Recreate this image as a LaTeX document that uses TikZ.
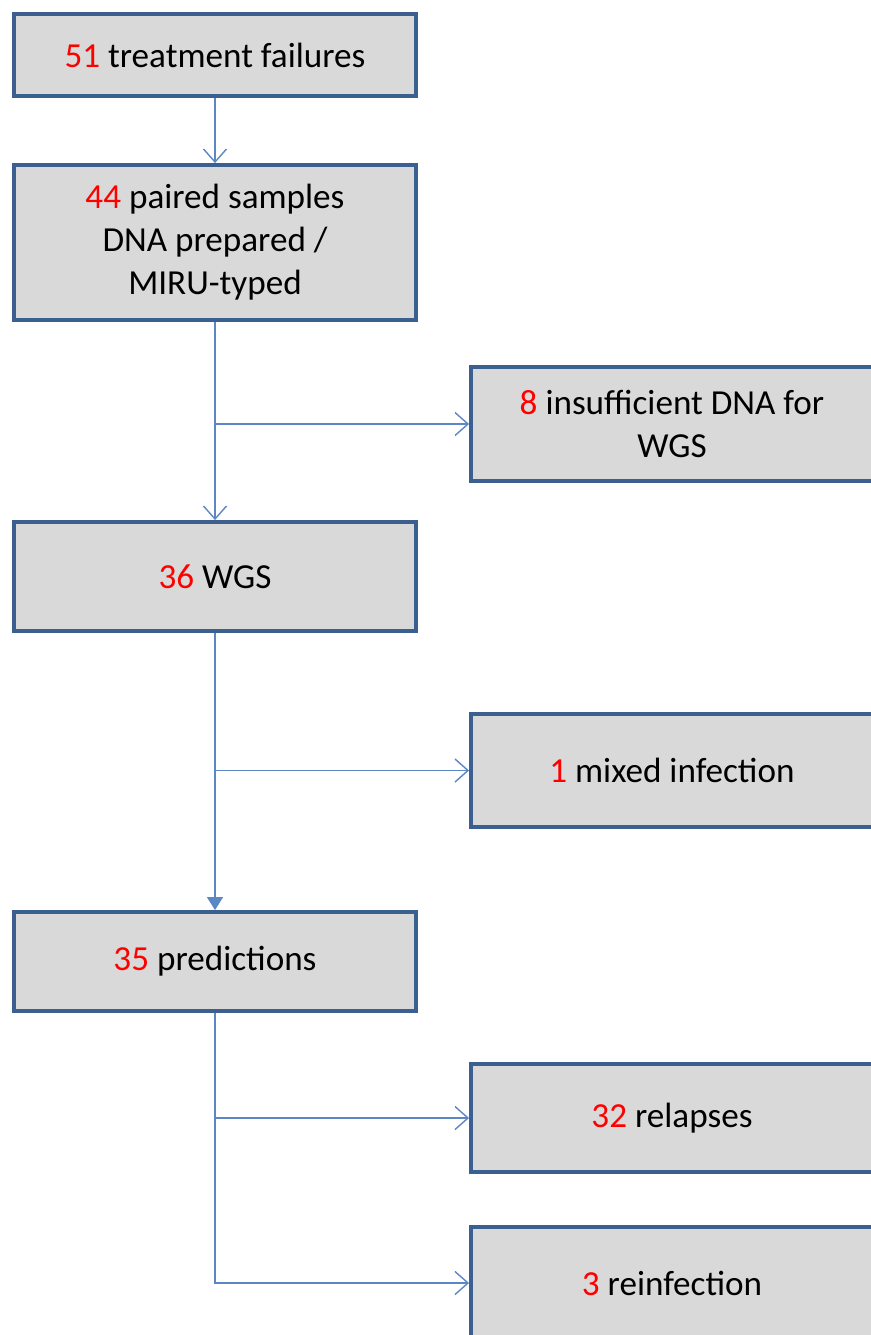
\documentclass[tikz,border=0pt]{standalone}
\usepackage{fontspec}
\setmainfont{Carlito}
\usepackage{xcolor}
\usetikzlibrary{arrows.meta, positioning}

\definecolor{boxedge}{HTML}{3B5F8E}
\definecolor{boxfill}{HTML}{D9D9D9}
\definecolor{linkblue}{HTML}{5B87C5}
\newcommand{\num}[1]{\textcolor{red}{#1}}

\begin{document}
\begin{tikzpicture}[
  stage/.style={draw=boxedge, line width=2.2pt, fill=boxfill, minimum width=8.04cm,
    align=center, font=\fontsize{20}{24.5}\selectfont, inner sep=2pt},
  link/.style={draw=linkblue, line width=0.8pt, -{Straight Barb[length=2.6mm, width=4.6mm]}},
  linkfull/.style={draw=linkblue, line width=0.8pt, -{Triangle[length=2.6mm, width=3.2mm]}}
]

% Frame of the picture
\useasboundingbox (0,0) rectangle (17.42,-26.7);
\clip (0,0) rectangle (17.42,-26.7);

% Main column
\node[stage, minimum height=1.64cm] (fail) at (4.30,-1.10) {\num{51} treatment failures};
\node[stage, minimum height=3.10cm] (paired) at (4.30,-4.85) {\num{44} paired samples\\DNA prepared /\\MIRU-typed};
\node[stage, minimum height=2.18cm] (wgs) at (4.30,-11.53) {\num{36} WGS};
\node[stage, minimum height=1.98cm] (pred) at (4.30,-19.23) {\num{35} predictions};

% Side boxes
\node[stage, minimum height=2.28cm] (lowdna) at (13.44,-8.48) {\num{8} insufficient DNA for\\WGS};
\node[stage, minimum height=2.26cm] (mixed) at (13.44,-15.41) {\num{1} mixed infection};
\node[stage, minimum height=2.16cm] (relapse) at (13.44,-22.36) {\num{32} relapses};
\node[stage, minimum height=2.24cm] (reinf) at (13.44,-25.66) {\num{3} reinfection};

% Arrows down the column
\draw[link] (fail.south) -- (paired.north);
\draw[link] (paired.south) -- (wgs.north);
\draw[linkfull] (wgs.south) -- (pred.north);

% Arrows to the side
\draw[link] (paired.south |- lowdna.west) -- (lowdna.west);
\draw[link] (wgs.south |- mixed.west) -- (mixed.west);
\draw[link] (pred.south) |- (relapse.west);
\draw[link] (pred.south) |- (reinf.west);

\end{tikzpicture}
\end{document}
